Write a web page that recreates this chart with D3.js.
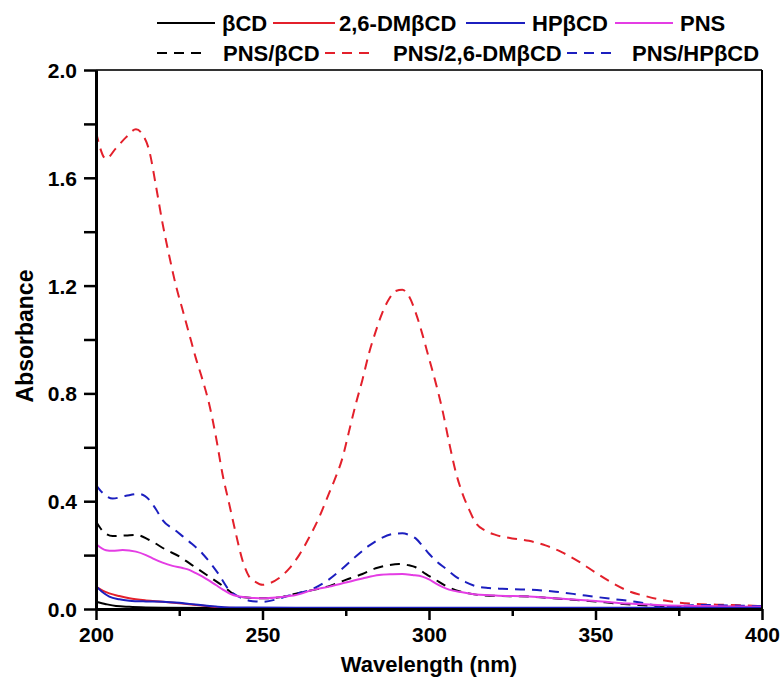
<!DOCTYPE html>
<html><head><meta charset="utf-8">
<script src="https://cdn.jsdelivr.net/npm/d3@7"></script>
<style>body{margin:0;background:#fff}svg{display:block}text{font-family:"Liberation Sans",Arial,sans-serif;font-weight:bold;fill:#000}</style>
</head><body>
<script>
// ---- data ----
const seriesNames = ["βCD","2,6-DMβCD","HPβCD","PNS","PNS/βCD","PNS/2,6-DMβCD","PNS/HPβCD"];
const xTicksMajor = [200,250,300,350,400];
const xTicksMinor = [225,275,325,375];
const yTicksMajor = [0,0.4,0.8,1.2,1.6,2.0];
const yTicksMinor = [0.2,0.6,1.0,1.4,1.8];

const wlBCD  = [200,203,206,210,215,220,240,300,400];
const absBCD = [0.027,0.018,0.011,0.008,0.006,0.005,0.004,0.003,0.003];

const wlDM  = [200,202,204,207,210,215,220,225,230,234,237,245,260,280,300,350,400];
const absDM = [0.083,0.068,0.058,0.048,0.040,0.032,0.027,0.021,0.015,0.010,0.006,0.004,0.003,0.004,0.003,0.002,0.002];

const wlHP  = [200,202,204,207,210,215,220,225,228,232,236,240,260,300,350,400];
const absHP = [0.085,0.062,0.046,0.036,0.031,0.028,0.027,0.023,0.019,0.014,0.009,0.006,0.005,0.005,0.005,0.005];

const wlPNS  = [200,203,205,208,212,215,217,220,223,226,228,230,232,234,236,238,240,243,247,251,256,260,265,270,275,280,285,289,292,295,298,300,302,304,306,310,313,320,330,340,350,360,370,380,390,400];
const absPNS = [0.241,0.218,0.216,0.219,0.213,0.200,0.188,0.172,0.160,0.152,0.145,0.133,0.120,0.105,0.089,0.073,0.058,0.046,0.041,0.040,0.045,0.052,0.070,0.083,0.098,0.113,0.126,0.129,0.130,0.126,0.120,0.110,0.095,0.082,0.072,0.062,0.056,0.050,0.046,0.038,0.030,0.020,0.014,0.011,0.009,0.008];

const wlPB  = [200,202,205,209,212,216,221,225,228,231,234,237,239,241,243,247,251,256,260,265,270,275,280,284,288,291,294,296,299,302,305,308,312,315,322,330,341,350,356,363,370,380,390,400];
const absPB = [0.325,0.290,0.271,0.273,0.275,0.256,0.220,0.195,0.170,0.145,0.120,0.095,0.077,0.058,0.046,0.041,0.040,0.045,0.057,0.070,0.085,0.108,0.130,0.151,0.163,0.167,0.162,0.155,0.130,0.108,0.086,0.070,0.058,0.052,0.048,0.046,0.036,0.028,0.021,0.015,0.011,0.009,0.008,0.007];

const wlPDM  = [200,203,206,209,212,214,216,218,220,222,224,226,228,230,232,234,236,238,240,242,244,246,248,250,252,255,258,261,264,267,270,272,274,276,278,280,282,284,286,288,290,292,294,296,298,300,302,304,306,308,310,312,314,317,320,325,330,335,340,345,350,355,360,365,370,375,380,390,400];
const absPDM = [1.77,1.67,1.71,1.75,1.78,1.76,1.70,1.57,1.43,1.31,1.20,1.11,1.02,0.93,0.85,0.76,0.64,0.50,0.39,0.28,0.18,0.12,0.10,0.09,0.095,0.115,0.15,0.20,0.265,0.34,0.43,0.49,0.56,0.66,0.76,0.85,0.95,1.03,1.10,1.15,1.18,1.185,1.16,1.10,1.02,0.93,0.84,0.74,0.62,0.51,0.43,0.37,0.32,0.29,0.275,0.262,0.253,0.236,0.21,0.176,0.135,0.097,0.066,0.048,0.033,0.024,0.019,0.015,0.011];

const wlPHP  = [200,203,205,209,213,216,218,220,224,228,232,235,237,240,243,246,250,254,258,262,266,270,274,278,282,286,290,292,294,296,298,300,302,305,308,311,314,318,322,330,338,344,350,356,362,366,370,374,378,382,390,400];
const absPHP = [0.46,0.42,0.41,0.42,0.427,0.405,0.37,0.33,0.29,0.25,0.205,0.16,0.126,0.07,0.045,0.031,0.027,0.035,0.05,0.062,0.08,0.11,0.15,0.195,0.235,0.265,0.28,0.281,0.275,0.262,0.235,0.205,0.18,0.15,0.12,0.10,0.085,0.078,0.075,0.072,0.064,0.055,0.045,0.036,0.027,0.018,0.010,0.010,0.013,0.015,0.013,0.011];

// ---- layout ----
const W = 783, H = 681;
const m = {left:96, right:762, top:70, bottom:609};
const colors = {black:"#000000", red:"#e3202b", blue:"#1c1fbf", magenta:"#e43de4"};

const svg = d3.select("body").append("svg").attr("width",W).attr("height",H);
const x = d3.scaleLinear().domain([200,400]).range([m.left,m.right]);
const y = d3.scaleLinear().domain([0,2.0]).range([m.bottom,m.top]);

const series = [
  {name:seriesNames[0], wl:wlBCD, a:absBCD, color:colors.black, dash:null},
  {name:seriesNames[1], wl:wlDM, a:absDM, color:colors.red, dash:null},
  {name:seriesNames[2], wl:wlHP, a:absHP, color:colors.blue, dash:null},
  {name:seriesNames[3], wl:wlPNS, a:absPNS, color:colors.magenta, dash:null},
  {name:seriesNames[4], wl:wlPB, a:absPB, color:colors.black, dash:"10,7"},
  {name:seriesNames[5], wl:wlPDM, a:absPDM, color:colors.red, dash:"10,7"},
  {name:seriesNames[6], wl:wlPHP, a:absPHP, color:colors.blue, dash:"10,7"}
];

const line = d3.line().x(d=>x(d[0])).y(d=>y(d[1])).curve(d3.curveMonotoneX);
const drawOrder = [4,5,6,3,0,1,2];
const g = svg.append("g");
drawOrder.forEach(i=>{
  const s = series[i];
  g.append("path").datum(s.wl.map((w,j)=>[w,s.a[j]]))
    .attr("d",line).attr("fill","none").attr("stroke",s.color)
    .attr("stroke-width",2).attr("stroke-dasharray",s.dash);
});

// frame
svg.append("line").attr("x1",m.left).attr("x2",m.right).attr("y1",m.top).attr("y2",m.top).attr("stroke","#333").attr("stroke-width",2);
svg.append("line").attr("x1",m.right).attr("x2",m.right).attr("y1",m.top).attr("y2",m.bottom).attr("stroke","#000").attr("stroke-width",2);

// x axis
const xAxis = svg.append("g").attr("transform",`translate(0,${m.bottom})`);
xAxis.call(d3.axisBottom(x).tickValues(xTicksMajor).tickSize(11).tickFormat(d3.format("d")).tickSizeOuter(0));
svg.append("g").attr("transform",`translate(0,${m.bottom})`)
  .call(d3.axisBottom(x).tickValues(xTicksMinor).tickSize(7).tickFormat("").tickSizeOuter(0));
// y axis
const yAxis = svg.append("g").attr("transform",`translate(${m.left},0)`);
yAxis.call(d3.axisLeft(y).tickValues(yTicksMajor).tickSize(12).tickFormat(d3.format(".1f")).tickSizeOuter(0));
svg.append("g").attr("transform",`translate(${m.left},0)`)
  .call(d3.axisLeft(y).tickValues(yTicksMinor).tickSize(12).tickFormat("").tickSizeOuter(0));

svg.selectAll(".domain").attr("stroke","#000").attr("stroke-width",3);
svg.selectAll(".tick line").attr("stroke","#000").attr("stroke-width",2.5);
xAxis.selectAll(".tick text").attr("font-size",21).attr("dy","0.72em").attr("y",18)
  .style("font-family","'Liberation Sans',Arial,sans-serif").style("font-weight","bold").attr("fill","#000");
yAxis.selectAll(".tick text").attr("font-size",21).attr("x",-19).attr("dy","0.36em")
  .style("font-family","'Liberation Sans',Arial,sans-serif").style("font-weight","bold").attr("fill","#000");

// axis titles
svg.append("text").attr("x",(m.left+m.right)/2).attr("y",672).attr("text-anchor","middle").attr("font-size",22).text("Wavelength (nm)");
svg.append("text").attr("transform","translate(33,336) rotate(-90)").attr("text-anchor","middle").attr("font-size",23).text("Absorbance");

// legend
const legendPos = [
  {lx:157, len:58, tx:222, ty:23},
  {lx:273, len:62, tx:339, ty:23},
  {lx:466, len:59, tx:532, ty:23},
  {lx:615, len:58, tx:680, ty:23},
  {lx:157, len:46, tx:223, ty:53},
  {lx:325, len:47, tx:393, ty:53},
  {lx:567, len:46, tx:632, ty:53}
];
series.forEach((s,i)=>{
  const p = legendPos[i];
  svg.append("line").attr("x1",p.lx).attr("x2",p.lx+p.len).attr("y1",p.ty).attr("y2",p.ty)
    .attr("stroke",s.color).attr("stroke-width",2).attr("stroke-dasharray",s.dash);
  svg.append("text").attr("x",p.tx).attr("y",p.ty).attr("dy","0.36em").attr("font-size",22).text(s.name);
});
</script>
</body></html>
